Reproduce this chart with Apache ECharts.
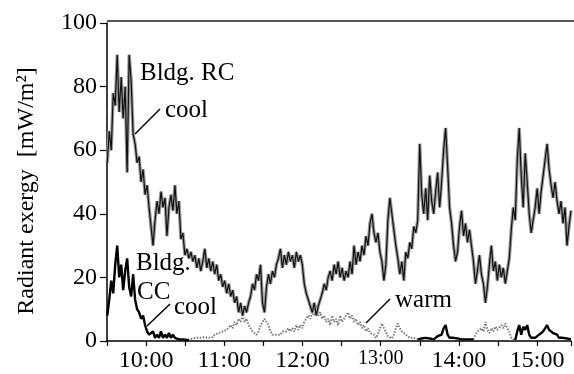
<!DOCTYPE html>
<html>
<head>
<meta charset="utf-8">
<script src="https://cdn.jsdelivr.net/npm/echarts@6/dist/echarts.min.js"></script>
<style>
html,body{margin:0;padding:0;background:#fff;}
#chart{width:574px;height:374px;}
</style>
</head>
<body>
<div id="chart"></div>
<script>
// Time axis: minutes since 0:00; samples every ~1.53 min starting 9:30
const t0 = 570.2;
const dt = 1.527;
const yTicks = [0, 20, 40, 60, 80, 100];

// Bldg. RC (cool) radiant exergy [mW/m2]
const rcCool = [
  56,66,60,78,74,90,72,83,70,80,
  53,90,82,65,62,56,58,50,54,46,
  49,42,36,30,38,44,40,47,42,45,
  33,42,46,41,49,40,44,32,34,27,
  29,26,28,25,27,23,26,22,25,29,
  23,26,22,25,21,24,19,21,17,19,
  15,18,14,16,12,14,9,12,8,11,
  9,12,14,18,16,21,19,24,12,9,
  17,21,18,22,20,24,26,29,23,27,
  24,28,25,27,23,28,25,27,24,18,
  15,13,11,9,12,8,11,13,15,18,
  16,20,22,19,24,21,25,20,23,19,
  22,20,25,21,30,24,28,25,30,27,
  33,30,37,40,34,31,34,28,25,19,
  24,38,45,40,35,30,26,21,25,19,
  28,26,31,29,36,34,38,62,46,40,
  48,38,52,44,40,47,53,42,50,60,
  67,55,42,37,30,25,28,36,41,33,
  37,31,35,30,25,18,22,27,21,18,
  12,17,24,30,22,25,19,24,20,23,
  18,22,26,35,42,38,57,67,52,42,
  59,50,40,34,38,42,48,40,47,52,
  57,62,54,49,45,50,44,40,44,37,
  42,30,36,41
];

// Bldg. CC, cool periods (black) and warm periods (dotted)
const ccCoolA = [
  8,13,19,15,24,30,20,24,16,22,
  26,17,14,21,13,10,9,7,8,5,
  3,2,1.5,3,1,2,1,3,1,2,
  1,2.5,1,2,1,1.5,0.5,1,0.5,0.5,
  0.3,0.2
];
const ccCoolAStart = 0;
const ccWarmA = [
  0.3,0.4,0.5,0.3,0.8,0.5,1,1.5,1,0.8,
  1.2,0.8,1,1.5,1.2,2,1.5,2.5,2,3,
  2.5,3.5,3,5,4,6,5,7,6,8,
  6,7,5,4,3,2.5,2,3,5,6,
  7,6,5,3,2,1.5,2,1.5,2,3,
  2.5,3,4,3,4,3,5,3.5,5,4,
  6,7,8,7,9,8,10,8,9,7,
  8,6,7,5,8,6,7,5,8,6,
  7,8,9,7,8,6,7,5,6,4,
  5,3,4,2.5,3,2,1,2,4,5.5,
  4,3,1.5,1,0.8,2,4,5.5,4,3,
  2.5,2,1.5,1,1.5,1,0.8,0.5
];
const ccWarmAStart = 39;
const ccCoolB = [
  0.5,0.3,0.8,0.5,1,0.5,0.8,1.2,0.5,1,
  1.5,1,2,4,5,2,1,0.5,1,1.5,
  0.8,1,0.5,0.8,0.5,0.8,0.5,0.3,0.5
];
const ccCoolBStart = 156;
const ccWarmB = [
  0.5,2,3,2.5,4,3,6,3.5,2.5,4,
  3,4.5,3.5,4,5,4,5.5,4,3,1,
  0.5,0.3
];
const ccWarmBStart = 184;
const ccCoolC = [
  0.3,3,5,2,4.5,3.5,5,2,1,1.5,
  1,1.5,2,1.5,3,4,5,3.5,4,2.5,
  3,2,1,0.5,1,0.5,0.8,0.5,0.5
];
const ccCoolCStart = 205;

function pts(arr, start) {
  return arr.map((v, k) => [t0 + (start + k) * dt, v]);
}
function hhmm(v) {
  const h = Math.floor(v / 60), m = Math.round(v % 60);
  return h + ':' + (m < 10 ? '0' + m : m);
}

const FONT = 'Liberation Serif';
const chart = echarts.init(document.getElementById('chart'), null, {renderer: 'canvas'});

const coolStyle = {color: '#000', width: 2.4};
const warmStyle = {color: '#7a7a7a', width: 2, type: [1.5, 1.5]};

chart.setOption({
  animation: false,
  backgroundColor: '#fff',
  grid: {left: 107, right: 0, top: 23, bottom: 33, containLabel: false},
  xAxis: [{
    type: 'value', min: 570, max: 926, interval: 30,
    axisLine: {show: true, lineStyle: {color: '#000', width: 1.5}},
    axisTick: {show: true, length: 5, lineStyle: {color: '#000', width: 1.2}},
    splitLine: {show: false},
    axisLabel: {
      margin: 8, color: '#000', fontFamily: FONT, fontSize: 24,
      formatter: function (v) {
        if (v % 60 !== 0 || v === 570) return '';
        const s = hhmm(v);
        return v === 780 ? '{s|' + s + '}' : s;
      },
      rich: {s: {fontFamily: FONT, fontSize: 20, color: '#000'}}
    }
  }],
  yAxis: [{
    type: 'value', min: 0, max: 100, interval: 20,
    axisLine: {show: true, lineStyle: {color: '#000', width: 1.5}},
    axisTick: {show: true, length: 7, lineStyle: {color: '#000', width: 1.2}},
    splitLine: {show: false},
    axisLabel: {
      margin: 10, color: '#000', fontFamily: FONT, fontSize: 24,
      formatter: function (v) { return yTicks.indexOf(v) >= 0 ? String(v) : ''; }
    }
  }],
  series: [
    {type: 'line', data: pts(ccWarmA, ccWarmAStart), showSymbol: false, lineStyle: warmStyle, z: 2},
    {type: 'line', data: pts(ccWarmB, ccWarmBStart), showSymbol: false, lineStyle: warmStyle, z: 2},
    {type: 'line', data: pts(ccCoolA, ccCoolAStart), showSymbol: false, lineStyle: coolStyle, z: 3},
    {type: 'line', data: pts(ccCoolB, ccCoolBStart), showSymbol: false, lineStyle: coolStyle, z: 3},
    {type: 'line', data: pts(ccCoolC, ccCoolCStart), showSymbol: false, lineStyle: coolStyle, z: 3},
    {type: 'line', data: pts(rcCool, 0), showSymbol: false, lineStyle: {color: '#9a9a9a', width: 3.4}, z: 4},
    {type: 'line', data: pts(rcCool, 0), showSymbol: false, lineStyle: {color: '#111', width: 1.2}, z: 5}
  ],
  graphic: [
    {type: 'line', shape: {x1: 107, y1: 21, x2: 574, y2: 21}, style: {stroke: '#555', lineWidth: 2}, z: 10},
    {type: 'text', x: 27, y: 191, rotation: Math.PI / 2,
      style: {text: 'Radiant exergy  [mW/m²]', fontFamily: FONT, fontSize: 24, fill: '#000', align: 'center', verticalAlign: 'middle'}},
    {type: 'text', x: 140, y: 73, style: {text: 'Bldg. RC', fontFamily: FONT, fontSize: 25, fill: '#000', align: 'left', verticalAlign: 'middle'}, z: 20},
    {type: 'text', x: 165, y: 110, style: {text: 'cool', fontFamily: FONT, fontSize: 25, fill: '#000', align: 'left', verticalAlign: 'middle'}, z: 20},
    {type: 'line', shape: {x1: 160, y1: 109, x2: 135, y2: 134}, style: {stroke: '#000', lineWidth: 1.5}, z: 20},
    {type: 'text', x: 136, y: 263, style: {text: 'Bldg.', fontFamily: FONT, fontSize: 25, fill: '#000', align: 'left', verticalAlign: 'middle'}, z: 20},
    {type: 'text', x: 137, y: 292, style: {text: 'CC', fontFamily: FONT, fontSize: 25, fill: '#000', align: 'left', verticalAlign: 'middle'}, z: 20},
    {type: 'text', x: 174, y: 307, style: {text: 'cool', fontFamily: FONT, fontSize: 25, fill: '#000', align: 'left', verticalAlign: 'middle'}, z: 20},
    {type: 'line', shape: {x1: 170, y1: 304, x2: 147, y2: 326}, style: {stroke: '#000', lineWidth: 1.5}, z: 20},
    {type: 'text', x: 395, y: 300, style: {text: 'warm', fontFamily: FONT, fontSize: 25, fill: '#000', align: 'left', verticalAlign: 'middle'}, z: 20},
    {type: 'line', shape: {x1: 390, y1: 299, x2: 366, y2: 323}, style: {stroke: '#000', lineWidth: 1.5}, z: 20}
  ]
});
</script>
</body>
</html>
